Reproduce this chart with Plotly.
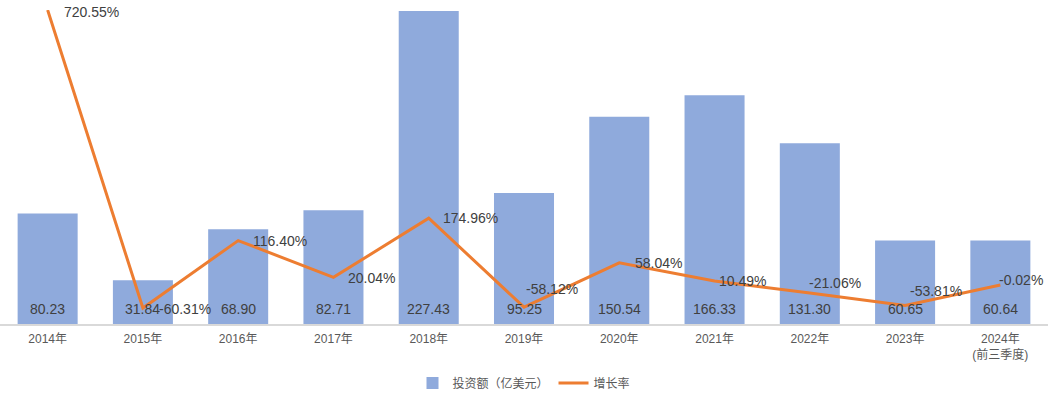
import plotly.graph_objects as go

categories = ["2014年", "2015年", "2016年", "2017年", "2018年", "2019年",
              "2020年", "2021年", "2022年", "2023年", "2024年<br>(前三季度)"]
investment = [80.23, 31.84, 68.90, 82.71, 227.43, 95.25, 150.54, 166.33, 131.30, 60.65, 60.64]
growth = [720.55, -60.31, 116.40, 20.04, 174.96, -58.12, 58.04, 10.49, -21.06, -53.81, -0.02]

# label offsets (pixels) for growth-rate labels
label_dx = [14, 14, 13, 13, 12, 0, 14, 2, -3, 3, -3]
label_dy = [-2, -1, 0, -1, 0, 18, 0, 0, 10, 15, 5]

BAR_COLOR = "#8FAADC"
LINE_COLOR = "#ED7D31"
TEXT_COLOR = "#404040"
FONT = "Liberation Sans, Arial, Noto Sans CJK SC, sans-serif"

fig = go.Figure()
fig.add_trace(go.Bar(
    x=categories, y=investment, name="投资额（亿美元）",
    marker=dict(color=BAR_COLOR, line=dict(width=0)),
    yaxis="y",
))
fig.add_trace(go.Scatter(
    x=categories, y=growth, name="增长率", mode="lines",
    line=dict(color=LINE_COLOR, width=3),
    yaxis="y2", cliponaxis=False,
))

annotations = []
for c, v in zip(categories, investment):
    annotations.append(dict(
        x=c, y=0, xref="x", yref="y", text=f"{v:.2f}", showarrow=False,
        xanchor="center", yanchor="middle", yshift=15,
        font=dict(size=14, color=TEXT_COLOR, family=FONT),
    ))
for c, g, dx, dy in zip(categories, growth, label_dx, label_dy):
    annotations.append(dict(
        x=c, y=g, xref="x", yref="y2", text=f"{g:.2f}%", showarrow=False,
        xanchor="left", yanchor="middle", xshift=dx, yshift=dy,
        font=dict(size=14, color=TEXT_COLOR, family=FONT),
    ))

fig.update_layout(
    width=1048, height=393,
    margin=dict(l=0, r=0, t=10, b=69, autoexpand=False),
    paper_bgcolor="white", plot_bgcolor="white",
    bargap=0.37,
    font=dict(family=FONT, color="#595959", size=12),
    xaxis=dict(
        showline=True, linecolor="#D9D9D9", linewidth=2,
        showgrid=False, ticks="", tickfont=dict(size=12, color="#595959"),
        zeroline=False, ticklabelstandoff=3, automargin=False,
    ),
    yaxis=dict(range=[0, 228.2], visible=False, showgrid=False, zeroline=False),
    yaxis2=dict(range=[-102.2, 720.6], overlaying="y", visible=False,
                showgrid=False, zeroline=False),
    legend=dict(orientation="h", x=0.5, xanchor="center", y=-0.188, yanchor="middle",
                font=dict(size=12, color="#595959"), itemwidth=30,
                traceorder="normal"),
    annotations=annotations,
    showlegend=True,
)

fig.write_html("out.html", include_plotlyjs=True,
               config={"displayModeBar": False},
               post_script="document.body.style.margin='0';document.body.style.padding='0';")
